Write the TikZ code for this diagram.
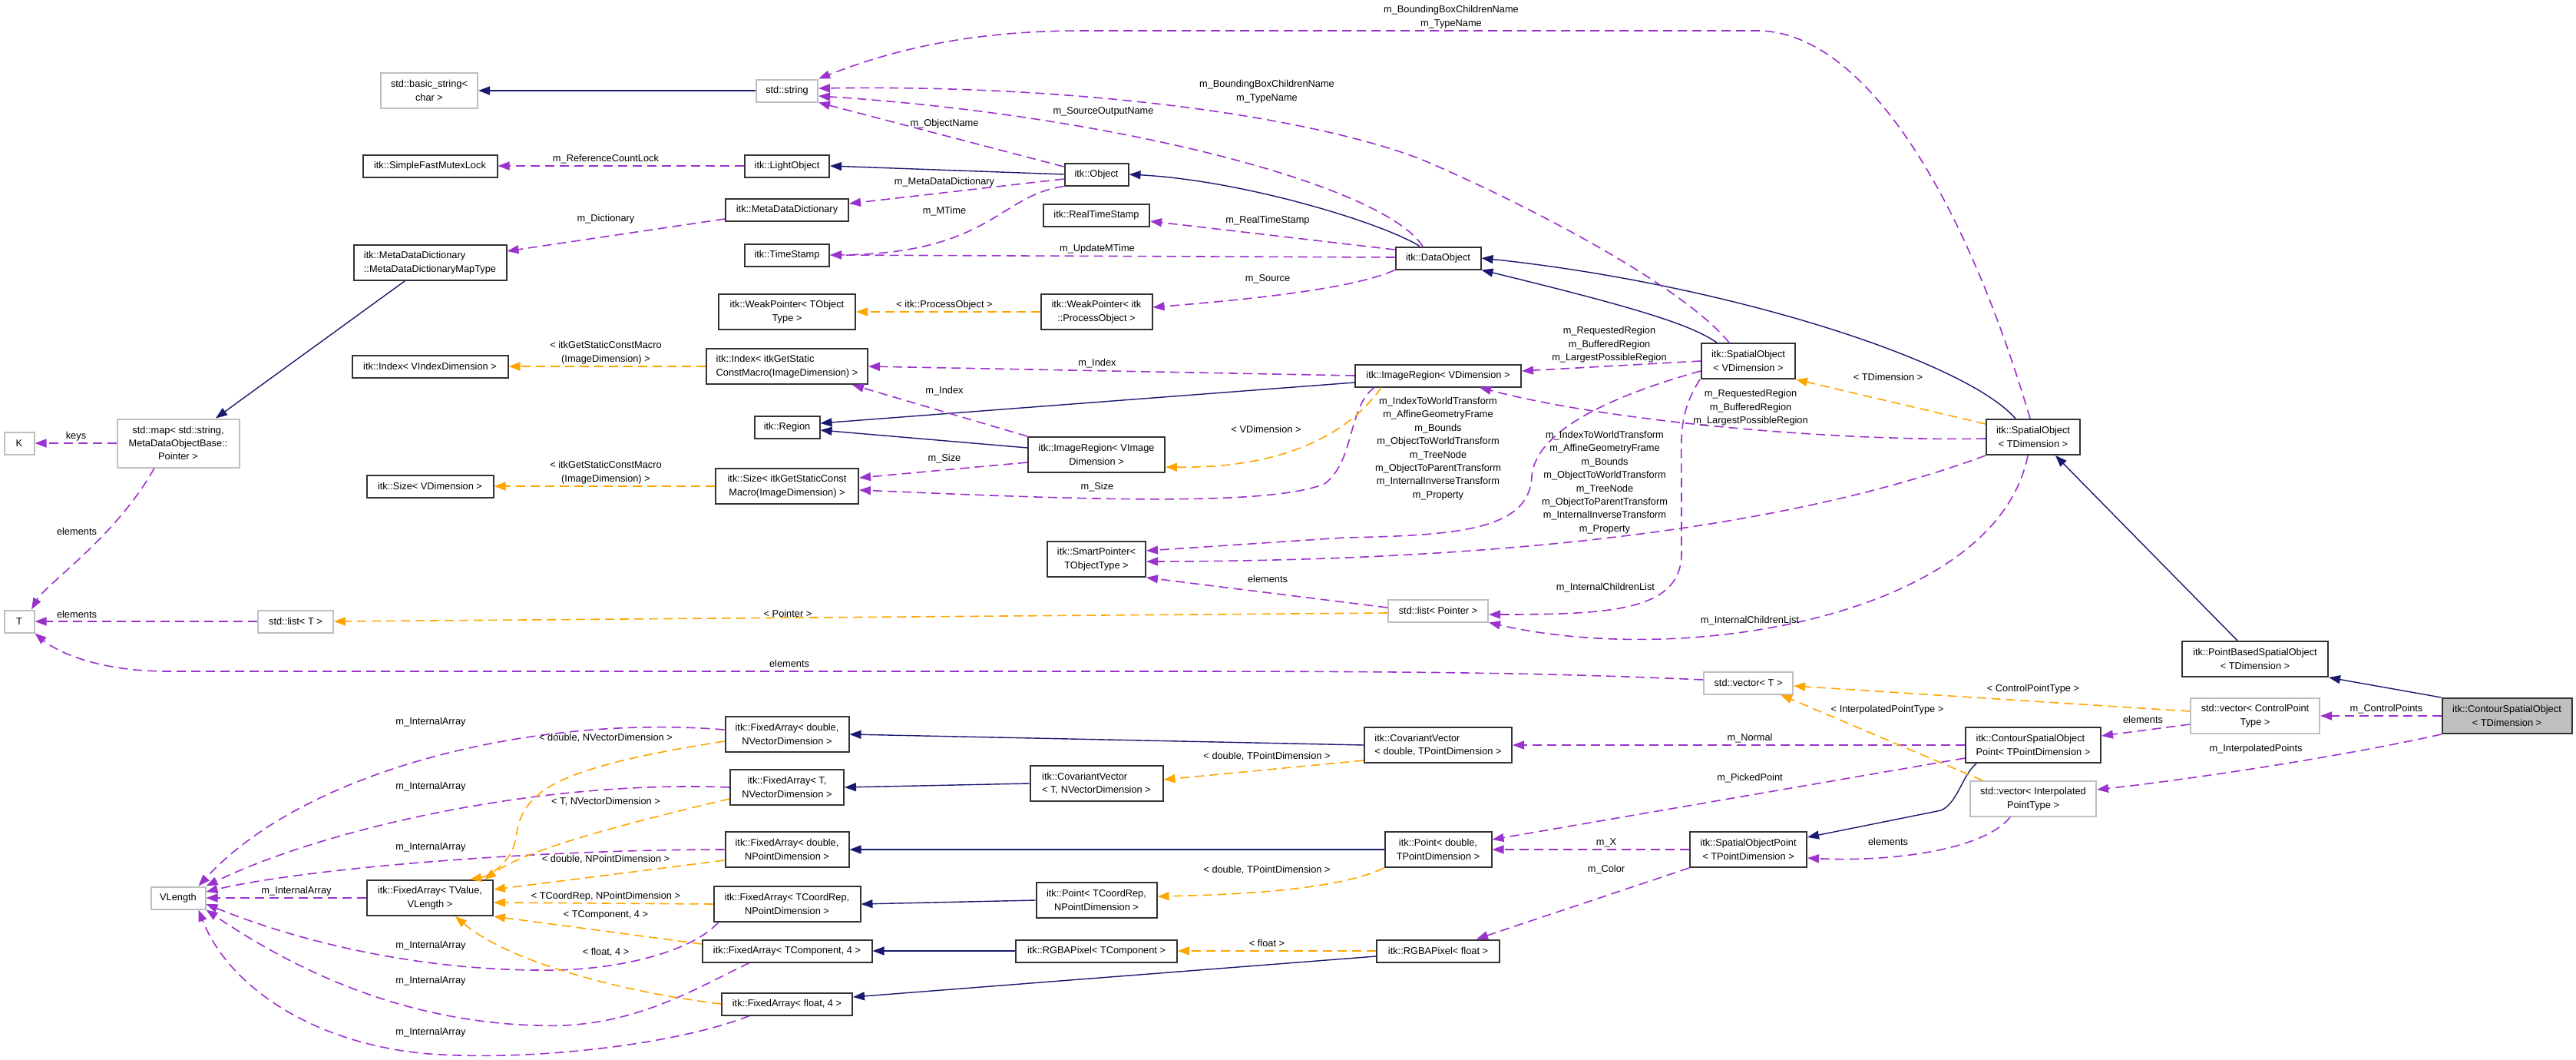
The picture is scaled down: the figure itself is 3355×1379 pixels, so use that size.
\documentclass[tikz,border=0pt]{standalone}
\usepackage{fontspec}
\setmainfont{Liberation Sans}
\usepackage{xcolor}
\usetikzlibrary{arrows.meta}

\definecolor{navyedge}{HTML}{191970}
\definecolor{orchidedge}{HTML}{9A32CD}
\definecolor{orangeedge}{HTML}{FFA500}
\definecolor{greyframe}{HTML}{BFBFBF}

\tikzset{
  classbox/.style={draw, line width=2pt, inner sep=0pt, align=center, minimum height=29pt},
  docbox/.style={classbox, draw=black!80},
  extbox/.style={classbox, draw=greyframe},
  curbox/.style={classbox, draw=black!80, fill=greyframe},
  twoline/.style={minimum height=46pt},
  threeline/.style={minimum height=63pt},
  lbl/.style={inner sep=0pt, align=center},
  isa/.style={navyedge, line width=1.4pt, -{Triangle[length=15pt,width=11pt]}},
  usage/.style={orchidedge, line width=1.6pt, dash pattern=on 12pt off 7pt, -{Triangle[length=15pt,width=11pt]}},
  templ/.style={orangeedge, line width=1.6pt, dash pattern=on 12pt off 7pt, -{Triangle[length=15pt,width=11pt]}},
}

\begin{document}
\begin{tikzpicture}[x=1pt, y=-1pt, font=\fontsize{12.8}{17.4}\selectfont]
	\useasboundingbox (0,0) rectangle (3355,1379);
	
	% string and object column
	\node[extbox, twoline, minimum width=126pt] (basicstr) at (559,118) {std::basic\_string<\\char >};
	\node[extbox, minimum width=80pt] (stdstr) at (1025,118) {std::string};
	\node[docbox, minimum width=175pt] (mutex) at (560,216) {itk::SimpleFastMutexLock};
	\node[docbox, minimum width=110pt] (lightobj) at (1025,216) {itk::LightObject};
	\node[docbox, minimum width=83pt] (object) at (1428,227) {itk::Object};
	\node[docbox, minimum width=160pt] (mddict) at (1025,273) {itk::MetaDataDictionary};
	\node[docbox, twoline, minimum width=199pt, align=left] (mdmap) at (560,342) {itk::MetaDataDictionary\\::MetaDataDictionaryMapType};
	\node[docbox, minimum width=110pt] (timestamp) at (1025,332) {itk::TimeStamp};
	\node[docbox, minimum width=138pt] (realtime) at (1428,280) {itk::RealTimeStamp};
	\node[docbox, minimum width=111pt] (dataobj) at (1873,336) {itk::DataObject};
	\node[docbox, twoline, minimum width=178pt] (weakobj) at (1025,406) {itk::WeakPointer< TObject\\Type >};
	\node[docbox, twoline, minimum width=145pt] (weakproc) at (1428,406) {itk::WeakPointer< itk\\::ProcessObject >};
	
	% regions
	\node[docbox, minimum width=203pt] (idxv) at (560,477) {itk::Index< VIndexDimension >};
	\node[docbox, twoline, minimum width=210pt, align=left] (idxmacro) at (1025,477) {itk::Index< itkGetStatic\\ConstMacro(ImageDimension) >};
	\node[docbox, minimum width=85pt] (region) at (1025,556) {itk::Region};
	\node[docbox, minimum width=216pt] (imgregv) at (1873,489) {itk::ImageRegion< VDimension >};
	\node[docbox, twoline, minimum width=178pt] (imgregimg) at (1428,592) {itk::ImageRegion< VImage\\Dimension >};
	\node[docbox, minimum width=165pt] (sizev) at (560,633) {itk::Size< VDimension >};
	\node[docbox, twoline, minimum width=186pt] (sizemacro) at (1025,633) {itk::Size< itkGetStaticConst\\Macro(ImageDimension) >};
	
	% spatial objects
	\node[docbox, twoline, minimum width=122pt] (spatialv) at (2277,470) {itk::SpatialObject\\< VDimension >};
	\node[docbox, twoline, minimum width=122pt] (spatialt) at (2648,569) {itk::SpatialObject\\< TDimension >};
	\node[docbox, twoline, minimum width=128pt] (smartptr) at (1428,728) {itk::SmartPointer<\\TObjectType >};
	\node[extbox, minimum width=130pt] (listptr) at (1873,795) {std::list< Pointer >};
	\node[docbox, twoline, minimum width=190pt] (pointbased) at (2937,858) {itk::PointBasedSpatialObject\\< TDimension >};
	\node[extbox, twoline, minimum width=168pt] (vecctrl) at (2937,932) {std::vector< ControlPoint\\Type >};
	\node[curbox, twoline, minimum width=169pt] (contour) at (3265,932) {itk::ContourSpatialObject\\< TDimension >};
	
	% std containers
	\node[extbox, minimum width=39pt] (nodeK) at (25,577) {K};
	\node[extbox, threeline, minimum width=159pt] (stdmap) at (232,577) {std::map< std::string,\\MetaDataObjectBase::\\Pointer >};
	\node[extbox, minimum width=39pt] (nodeT) at (25,809) {T};
	\node[extbox, minimum width=98pt] (listt) at (385,809) {std::list< T >};
	\node[extbox, minimum width=116pt] (vectort) at (2277,889) {std::vector< T >};
	
	% points and pixels
	\node[docbox, twoline, minimum width=176pt, align=left] (contourpt) at (2648,970) {itk::ContourSpatialObject\\Point< TPointDimension >};
	\node[extbox, twoline, minimum width=164pt] (vecinterp) at (2648,1040) {std::vector< Interpolated\\PointType >};
	\node[docbox, twoline, minimum width=152pt] (sopoint) at (2277,1106) {itk::SpatialObjectPoint\\< TPointDimension >};
	\node[docbox, twoline, minimum width=192pt, align=left] (covdbl) at (1873,970) {itk::CovariantVector\\< double, TPointDimension >};
	\node[docbox, twoline, minimum width=139pt] (ptdbl) at (1873,1106) {itk::Point< double,\\TPointDimension >};
	\node[docbox, minimum width=160pt] (rgbafloat) at (1873,1238) {itk::RGBAPixel< float >};
	\node[docbox, twoline, minimum width=173pt, align=left] (covt) at (1428,1020) {itk::CovariantVector\\< T, NVectorDimension >};
	\node[docbox, twoline, minimum width=157pt] (ptcoord) at (1428,1172) {itk::Point< TCoordRep,\\NPointDimension >};
	\node[docbox, minimum width=210pt] (rgbacomp) at (1428,1238) {itk::RGBAPixel< TComponent >};
	
	% fixed arrays
	\node[docbox, twoline, minimum width=161pt] (fadblvec) at (1025,956) {itk::FixedArray< double,\\NVectorDimension >};
	\node[docbox, twoline, minimum width=148pt] (fatvec) at (1025,1025) {itk::FixedArray< T,\\NVectorDimension >};
	\node[docbox, twoline, minimum width=161pt] (fadblpt) at (1025,1106) {itk::FixedArray< double,\\NPointDimension >};
	\node[docbox, twoline, minimum width=191pt] (facoord) at (1025,1177) {itk::FixedArray< TCoordRep,\\NPointDimension >};
	\node[docbox, minimum width=221pt] (facomp) at (1025,1238) {itk::FixedArray< TComponent, 4 >};
	\node[docbox, minimum width=170pt] (fafloat) at (1025,1307) {itk::FixedArray< float, 4 >};
	\node[docbox, twoline, minimum width=164pt] (fatvalue) at (560,1169) {itk::FixedArray< TValue,\\VLength >};
	\node[extbox, minimum width=71pt] (vlength) at (232,1169) {VLength};
	
	% inheritance
	\draw[isa] (stdstr) -- (basicstr);
	\draw[isa] (object.west) -- (lightobj.east);
	\draw[isa] ([xshift=-24pt]dataobj.north) .. controls (1800,290) and (1620,235) .. (object.east);
	\draw[isa] ([xshift=-41pt]spatialv.north) .. controls (2205,425) and (2150,405) .. (dataobj.south east);
	\draw[isa] ([xshift=-23pt]spatialt.north) .. controls (2560,470) and (2250,370) .. (dataobj.east);
	\draw[isa] ([xshift=-23pt]pointbased.north) -- ([xshift=29pt]spatialt.south);
	\draw[isa] (contour.north west) -- (pointbased.south east);
	\draw[isa] ([xshift=-33pt]mdmap.south) -- ([xshift=49pt]stdmap.north);
	\draw[isa] ([yshift=-9pt]imgregv.west) -- ([yshift=5pt]region.east);
	\draw[isa] ([yshift=9pt]imgregimg.west) -- ([yshift=-4pt]region.east);
	\draw[isa] (covdbl.west) -- (fadblvec.east);
	\draw[isa] (covt.west) -- (fatvec.east);
	\draw[isa] (ptdbl.west) -- (fadblpt.east);
	\draw[isa] (ptcoord.west) -- (facoord.east);
	\draw[isa] (rgbacomp.west) -- (facomp.east);
	\draw[isa] ([yshift=-7pt]rgbafloat.west) -- ([yshift=9pt]fafloat.east);
	\draw[isa] ([xshift=15pt]contourpt.south west) .. controls (2555,1010) and (2550,1045) .. (2528,1055) -- ([yshift=16pt]sopoint.east);
	
	% members
	\draw[usage] (lightobj) -- (mutex);
	\draw[usage] ([yshift=10pt]object.west) -- (stdstr.south east);
	\draw[usage] ([yshift=-6pt]object.west) -- ([yshift=8pt]mddict.east);
	\draw[usage] (object.south west) .. controls (1300,255) and (1290,330) .. (timestamp.east);
	\draw[usage] ([yshift=1pt]dataobj.west) -- (timestamp.east);
	\draw[usage] ([yshift=11pt]dataobj.west) -- ([yshift=-8pt]realtime.east);
	\draw[usage] (dataobj.south west) .. controls (1760,378) and (1600,392) .. ([yshift=6pt]weakproc.east);
	\draw[usage] ([xshift=-20pt]dataobj.north) .. controls (1800,240) and (1450,150) .. ([yshift=-7pt]stdstr.east);
	\draw[usage] ([xshift=-25pt]spatialv.north) .. controls (2190,370) and (1980,262) .. (1850,207) .. controls (1700,150) and (1400,110) .. ([yshift=3pt]stdstr.east);
	\draw[usage] ([xshift=-4pt]spatialt.north) .. controls (2560,260) and (2430,42) .. (2290,40) -- (1410,40) .. controls (1250,40) and (1150,70) .. (stdstr.north east);
	\draw[usage] (spatialv.west) -- ([yshift=6pt]imgregv.east);
	\draw[usage] ([yshift=-2pt]spatialt.west) .. controls (2400,575) and (2100,550) .. ([xshift=54pt]imgregv.south);
	\draw[usage] ([yshift=-13pt]spatialv.west) .. controls (2100,515) and (2000,560) .. (1995,620) .. controls (1992,690) and (1900,697) .. (1750,700) -- ([yshift=11pt]smartptr.east);
	\draw[usage] (spatialt.south west) .. controls (2350,680) and (2000,730) .. ([yshift=-3pt]smartptr.east);
	\draw[usage] ([xshift=-63pt]spatialv.south) .. controls (2185,540) and (2190,570) .. (2190,630) -- (2190,720) .. controls (2190,795) and (2100,800) .. ([yshift=-5pt]listptr.east);
	\draw[usage] ([xshift=-7pt]spatialt.south) .. controls (2600,800) and (2200,870) .. (listptr.south east);
	\draw[usage] ([yshift=4pt]listptr.west) -- (smartptr.south east);
	\draw[usage] (imgregv.west) -- (idxmacro.east);
	\draw[usage] (imgregimg.north west) -- ([xshift=85pt]idxmacro.south);
	\draw[usage] ([yshift=-10pt]imgregimg.west) -- ([yshift=11pt]sizemacro.east);
	\draw[usage] ([xshift=-83pt]imgregv.south) .. controls (1755,530) and (1765,600) .. (1725,630) .. controls (1650,660) and (1400,650) .. ([yshift=-5pt]sizemacro.east);
	\draw[usage] ([yshift=-12pt]mddict.west) -- ([yshift=15pt]mdmap.east);
	\draw[usage] (contourpt) -- (covdbl);
	\draw[usage] ([yshift=-17pt]contourpt.west) -- ([yshift=13pt]ptdbl.east);
	\draw[usage] (sopoint) -- (ptdbl);
	\draw[usage] (sopoint.south west) -- ([xshift=50pt]rgbafloat.north);
	\draw[usage] ([xshift=-30pt]vecinterp.south) .. controls (2580,1110) and (2450,1122) .. ([yshift=-11pt]sopoint.east);
	\draw[usage] (contour) -- (vecctrl);
	\draw[usage] (contour.south west) .. controls (3050,985) and (2850,1015) .. ([yshift=12pt]vecinterp.east);
	\draw[usage] ([yshift=-11pt]vecctrl.west) -- ([yshift=12pt]contourpt.east);
	\draw[usage] (stdmap) -- (nodeK);
	\draw[usage] ([xshift=-31pt]stdmap.south) .. controls (150,700) and (60,760) .. ([xshift=16pt]nodeT.north);
	\draw[usage] (listt) -- (nodeT);
	\draw[usage] ([yshift=4pt]vectort.west) .. controls (2000,875) and (1800,874) .. (1500,874) -- (220,874) .. controls (120,874) and (70,845) .. (nodeT.south east);
	\draw[usage] (fatvalue) -- (vlength);
	\draw[usage] ([yshift=6pt]fadblvec.west) .. controls (700,930) and (400,1000) .. ([xshift=-10pt]vlength.north east);
	\draw[usage] (fatvec.west) .. controls (700,1015) and (420,1080) .. (vlength.north east);
	\draw[usage] (fadblpt.west) .. controls (700,1106) and (400,1130) .. ([yshift=8pt]vlength.east);
	\draw[usage] ([xshift=7pt]facoord.south west) .. controls (900,1240) and (800,1265) .. (700,1263) .. controls (550,1262) and (400,1230) .. ([yshift=-8pt]vlength.east);
	\draw[usage] ([xshift=-49pt]facomp.south) .. controls (900,1290) and (820,1340) .. (700,1335) .. controls (520,1330) and (380,1260) .. (vlength.south east);
	\draw[usage] ([xshift=-49pt]fafloat.south) .. controls (880,1360) and (700,1380) .. (574,1373) .. controls (420,1365) and (300,1290) .. ([xshift=-10pt]vlength.south east);
	
	% template instances
	\draw[templ] (idxmacro) -- (idxv);
	\draw[templ] (sizemacro) -- (sizev);
	\draw[templ] (weakproc) -- (weakobj);
	\draw[templ] ([xshift=-74pt]imgregv.south) .. controls (1760,560) and (1680,610) .. ([yshift=-16pt]imgregimg.east);
	\draw[templ] ([yshift=17pt]spatialt.west) -- (spatialv.south east);
	\draw[templ] ([yshift=-3pt]listptr.west) -- (listt.east);
	\draw[templ] ([yshift=6pt]vecctrl.west) -- ([yshift=-4pt]vectort.east);
	\draw[templ] ([xshift=17pt]vecinterp.north west) -- ([xshift=42pt]vectort.south);
	\draw[templ] ([yshift=-20pt]covdbl.west) -- ([yshift=5pt]covt.east);
	\draw[templ] (ptdbl.south west) .. controls (1740,1160) and (1600,1165) .. ([yshift=5pt]ptcoord.east);
	\draw[templ] (rgbafloat) -- (rgbacomp);
	\draw[templ] ([yshift=-9pt]fadblvec.west) .. controls (720,1000) and (680,1030) .. (672,1090) .. controls (668,1120) and (640,1140) .. ([xshift=52pt]fatvalue.north);
	\draw[templ] ([yshift=-15pt]fatvec.west) .. controls (780,1080) and (680,1110) .. ([xshift=71pt]fatvalue.north);
	\draw[templ] ([yshift=-14pt]fadblpt.west) -- ([yshift=11pt]fatvalue.east);
	\draw[templ] (facoord.west) -- ([yshift=-6pt]fatvalue.east);
	\draw[templ] ([yshift=9pt]facomp.west) -- (fatvalue.south east);
	\draw[templ] (fafloat.west) .. controls (800,1290) and (660,1250) .. ([xshift=33pt]fatvalue.south);
	
	% edge labels
	\node[lbl] (lTypeTop) at (1890,22) {m\_BoundingBoxChildrenName\\m\_TypeName};
	\node[lbl] (lTypeV) at (1650,119) {m\_BoundingBoxChildrenName\\m\_TypeName};
	\node[lbl] (lSrcOut) at (1437,145) {m\_SourceOutputName};
	\node[lbl] (lObjName) at (1230,161) {m\_ObjectName};
	\node[lbl] (lRefLock) at (789,207) {m\_ReferenceCountLock};
	\node[lbl] (lMDDict) at (1230,237) {m\_MetaDataDictionary};
	\node[lbl] (lMTime) at (1230,275) {m\_MTime};
	\node[lbl] (lDict) at (789,285) {m\_Dictionary};
	\node[lbl] (lRealTS) at (1651,287) {m\_RealTimeStamp};
	\node[lbl] (lUpdMT) at (1429,324) {m\_UpdateMTime};
	\node[lbl] (lSource) at (1651,363) {m\_Source};
	\node[lbl] (lProcObj) at (1230,397) {< itk::ProcessObject >};
	\node[lbl] (lIdxMac) at (789,459) {< itkGetStaticConstMacro\\(ImageDimension) >};
	\node[lbl] (lSizeMac) at (789,615) {< itkGetStaticConstMacro\\(ImageDimension) >};
	\node[lbl] (lIdxV) at (1429,473) {m\_Index};
	\node[lbl] (lIdxImg) at (1230,509) {m\_Index};
	\node[lbl] (lRegV) at (2096,449) {m\_RequestedRegion\\m\_BufferedRegion\\m\_LargestPossibleRegion};
	\node[lbl] (lRegT) at (2280,531) {m\_RequestedRegion\\m\_BufferedRegion\\m\_LargestPossibleRegion};
	\node[lbl] (lTDim) at (2459,491) {< TDimension >};
	\node[lbl] (lVDim) at (1649,559) {< VDimension >};
	\node[lbl] (lSizeImg) at (1230,597) {m\_Size};
	\node[lbl] (lSizeV) at (1429,634) {m\_Size};
	\node[lbl] (lXformV) at (1873,584) {m\_IndexToWorldTransform\\m\_AffineGeometryFrame\\m\_Bounds\\m\_ObjectToWorldTransform\\m\_TreeNode\\m\_ObjectToParentTransform\\m\_InternalInverseTransform\\m\_Property};
	\node[lbl] (lXformT) at (2090,628) {m\_IndexToWorldTransform\\m\_AffineGeometryFrame\\m\_Bounds\\m\_ObjectToWorldTransform\\m\_TreeNode\\m\_ObjectToParentTransform\\m\_InternalInverseTransform\\m\_Property};
	\node[lbl] (lKeys) at (99,568) {keys};
	\node[lbl] (lElMap) at (100,692) {elements};
	\node[lbl] (lElList) at (100,800) {elements};
	\node[lbl] (lElPtr) at (1651,754) {elements};
	\node[lbl] (lChildV) at (2091,765) {m\_InternalChildrenList};
	\node[lbl] (lChildT) at (2279,808) {m\_InternalChildrenList};
	\node[lbl] (lPointer) at (1026,799) {< Pointer >};
	\node[lbl] (lElVec) at (1028,864) {elements};
	\node[lbl] (lCtrlType) at (2648,897) {< ControlPointType >};
	\node[lbl] (lInterpType) at (2458,924) {< InterpolatedPointType >};
	\node[lbl] (lElCtrl) at (2791,937) {elements};
	\node[lbl] (lCtrlPts) at (3108,923) {m\_ControlPoints};
	\node[lbl] (lInterpPts) at (2938,975) {m\_InterpolatedPoints};
	\node[lbl] (lNormal) at (2279,961) {m\_Normal};
	\node[lbl] (lPicked) at (2279,1013) {m\_PickedPoint};
	\node[lbl] (lX) at (2092,1097) {m\_X};
	\node[lbl] (lColor) at (2092,1132) {m\_Color};
	\node[lbl] (lElInterp) at (2459,1096) {elements};
	\node[lbl] (lDblTP1) at (1650,985) {< double, TPointDimension >};
	\node[lbl] (lDblTP2) at (1650,1133) {< double, TPointDimension >};
	\node[lbl] (lFloat) at (1650,1228) {< float >};
	\node[lbl] (lDblNV) at (789,961) {< double, NVectorDimension >};
	\node[lbl] (lTNV) at (789,1044) {< T, NVectorDimension >};
	\node[lbl] (lDblNP) at (789,1119) {< double, NPointDimension >};
	\node[lbl] (lCoordNP) at (789,1167) {< TCoordRep, NPointDimension >};
	\node[lbl] (lComp4) at (789,1191) {< TComponent, 4 >};
	\node[lbl] (lFloat4) at (789,1240) {< float, 4 >};
	\foreach \x/\y [count=\i] in {561/940,561/1024,561/1103,386/1160,561/1231,561/1277,561/1344}{
		\node[lbl] (lArr\i) at (\x,\y) {m\_InternalArray};
	}
\end{tikzpicture}
\end{document}
